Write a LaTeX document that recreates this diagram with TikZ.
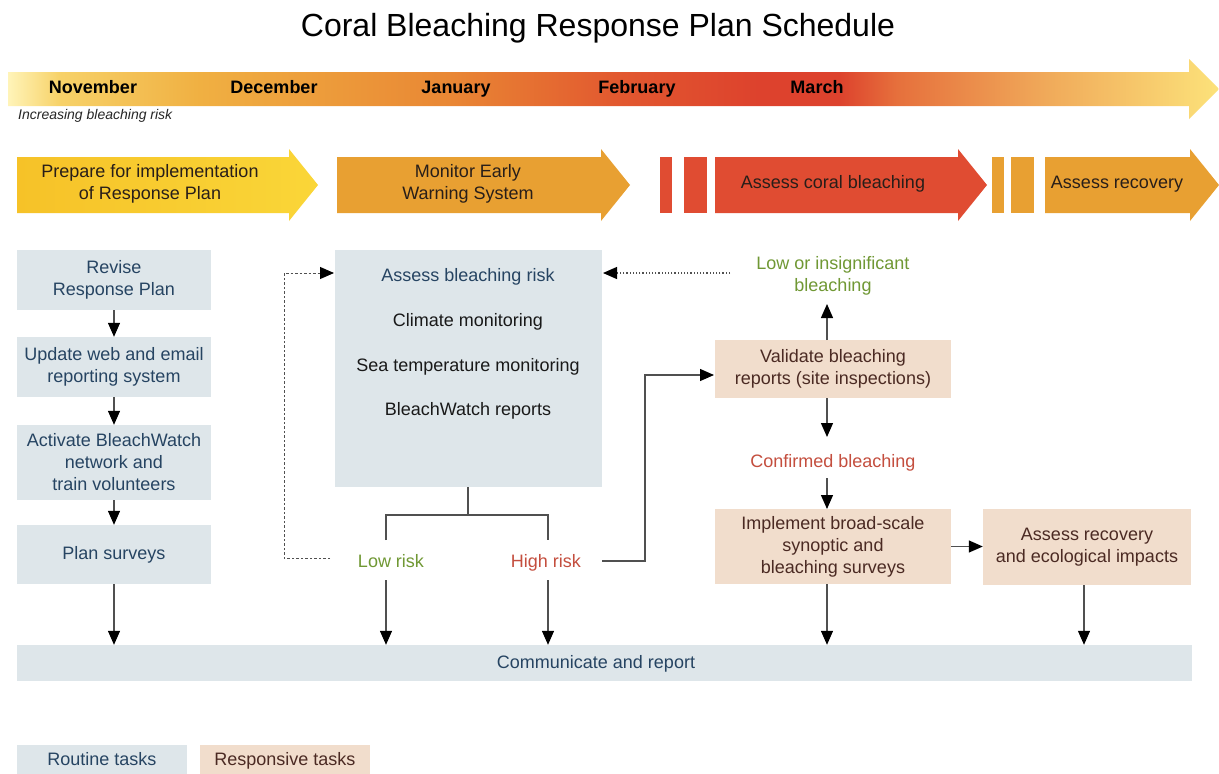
\documentclass[tikz,border=0pt]{standalone}
\usepackage{fontspec}
\setmainfont{Liberation Sans}
\usetikzlibrary{arrows.meta}
\definecolor{routinefill}{RGB}{222,230,234}
\definecolor{responsfill}{RGB}{241,221,204}
\definecolor{bluetxt}{RGB}{38,68,98}
\definecolor{browntxt}{RGB}{75,42,35}
\definecolor{greentxt}{RGB}{112,152,52}
\definecolor{redtxt}{RGB}{196,78,62}
\definecolor{linegrey}{RGB}{80,80,80}
\definecolor{phasetxt}{RGB}{40,30,25}
\definecolor{cA}{RGB}{255,244,185}
\definecolor{cB}{RGB}{247,210,105}
\definecolor{cC}{RGB}{240,176,66}
\definecolor{cD}{RGB}{233,135,52}
\definecolor{cE}{RGB}{226,88,47}
\definecolor{cF}{RGB}{221,66,45}
\definecolor{cG}{RGB}{230,112,60}
\definecolor{cH}{RGB}{240,170,90}
\definecolor{cI}{RGB}{252,226,122}
\definecolor{prepL}{RGB}{246,194,40}
\definecolor{prepR}{RGB}{250,214,56}
\definecolor{orangeph}{RGB}{232,160,50}
\definecolor{redph}{RGB}{224,76,50}
\pgfdeclarehorizontalshading{risk}{100bp}{color(0bp)=(cA); color(25bp)=(cA); color(27.1bp)=(cB); color(32.9bp)=(cC); color(43.2bp)=(cD); color(50.2bp)=(cE); color(56bp)=(cF); color(59.3bp)=(cF); color(61.7bp)=(cG); color(67.9bp)=(cH); color(75bp)=(cI); color(100bp)=(cI)}
\tikzset{
  txt/.style={font=\fontsize{18}{22}\selectfont, align=center, inner sep=0pt},
  one/.style={text height=13pt, text depth=4pt},
  routine/.style={fill=routinefill, draw=none, inner sep=0pt, text=bluetxt, font=\fontsize{18}{22}\selectfont, align=center},
  respons/.style={fill=responsfill, draw=none, inner sep=0pt, text=browntxt, font=\fontsize{18}{22}\selectfont, align=center},
  month/.style={font=\fontsize{18}{22}\selectfont\bfseries, text=black, inner sep=0pt, text height=13pt, text depth=4pt},
  tip/.style={-{Triangle[length=14pt,width=12pt,color=black]}},
  arr/.style={draw=linegrey, line width=1.3pt, tip},
  plain/.style={draw=linegrey, line width=1.3pt},
  dashline/.style={draw=linegrey, line width=1pt, dash pattern=on 2.5pt off 2pt},
  dotline/.style={draw=linegrey, line width=1.2pt, dash pattern=on 1.2pt off 2pt},
}
\begin{document}
\begin{tikzpicture}[x=1pt,y=-1pt]
\useasboundingbox (0,0) rectangle (1219,774);
\fill[white] (0,0) rectangle (1219,774);
% title
\node[font=\fontsize{32}{38}\selectfont, inner sep=0pt] (title) at (598,28) {Coral Bleaching Response Plan Schedule};
% timeline arrow
\shade[shading=risk] (8,72) -- (1189,72) -- (1189,59) -- (1219,89) -- (1189,119) -- (1189,106) -- (8,106) -- cycle;
\node[month] (nov) at (93,89) {November};
\node[month] (dec) at (274,89) {December};
\node[month] (jan) at (456,89) {January};
\node[month] (feb) at (637,89) {February};
\node[month] (mar) at (817,89) {March};
\node[font=\fontsize{14}{16}\selectfont\itshape, text=black!85, inner sep=0pt, anchor=west] (risk) at (18,116) {Increasing bleaching risk};
% phase arrows
\shade[left color=prepL, right color=prepR] (17,157) -- (289,157) -- (289,149) -- (318,185) -- (289,221) -- (289,213) -- (17,213) -- cycle;
\fill[orangeph] (337,157) -- (601,157) -- (601,149) -- (630,185) -- (601,221) -- (601,213) -- (337,213) -- cycle;
\fill[redph] (660,157) rectangle (672,213);
\fill[redph] (684,157) rectangle (707,213);
\fill[redph] (715,157) -- (958,157) -- (958,149) -- (987,185) -- (958,221) -- (958,213) -- (715,213) -- cycle;
\fill[orangeph] (992,157) rectangle (1004,213);
\fill[orangeph] (1011,157) rectangle (1034,213);
\fill[orangeph] (1045,157) -- (1190,157) -- (1190,149) -- (1219,185) -- (1190,221) -- (1190,213) -- (1045,213) -- cycle;
\node[txt, text=phasetxt] (ph1) at (150,184) {Prepare for implementation\\of Response Plan};
\node[txt, text=phasetxt] (ph2) at (468,184) {Monitor Early\\Warning System};
\node[txt, one, text=phasetxt] (ph3) at (833,184) {Assess coral bleaching};
\node[txt, one, text=phasetxt] (ph4) at (1117,184) {Assess recovery};
% routine column
\node[routine, minimum width=194pt, minimum height=60pt] (revise) at (114,280) {Revise\\Response Plan};
\node[routine, minimum width=194pt, minimum height=60pt] (update) at (114,367) {Update web and email\\reporting system};
\node[routine, minimum width=194pt, minimum height=75pt] (activate) at (114,462.5) {Activate BleachWatch\\network and\\train volunteers};
\node[routine, one, minimum width=194pt, minimum height=59pt] (plansurv) at (114,554.5) {Plan surveys};
% communicate bar
\node[routine, minimum width=1175pt, minimum height=36pt] (comm) at (604.5,663) {};
\node[txt, one, text=bluetxt] (commtxt) at (596,664) {Communicate and report};
% assess box
\node[routine, minimum width=267pt, minimum height=237pt] (assess) at (468.5,368.5) {};
\node[txt, one, text=bluetxt] (a1) at (468,277) {Assess bleaching risk};
\node[txt, one, text=black!90] (a2) at (468,322) {Climate monitoring};
\node[txt, one, text=black!90] (a3) at (468,367) {Sea temperature monitoring};
\node[txt, one, text=black!90] (a4) at (468,411) {BleachWatch reports};
\node[txt, one, text=greentxt] (low) at (391,563) {Low risk};
\node[txt, one, text=redtxt] (high) at (546,563) {High risk};
% responsive
\node[txt, text=greentxt] (lowins) at (833,276) {Low or insignificant\\bleaching};
\node[respons, minimum width=236pt, minimum height=58pt] (validate) at (833,369) {Validate bleaching\\reports (site inspections)};
\node[txt, one, text=redtxt] (confirmed) at (833,463) {Confirmed bleaching};
\node[respons, minimum width=236pt, minimum height=75pt] (implement) at (833,546.5) {Implement broad-scale\\synoptic and\\bleaching surveys};
\node[respons, minimum width=208pt, minimum height=76pt] (recov) at (1087,547) {Assess recovery\\and ecological impacts};
% legend
\node[routine, minimum width=170pt, minimum height=36pt] (legr) at (102,763) {};
\node[txt, one, text=bluetxt] (legrt) at (102,761) {Routine tasks};
\node[respons, minimum width=170pt, minimum height=36pt] (legs) at (285,763) {};
\node[txt, one, text=browntxt] (legst) at (285,761) {Responsive tasks};
% coordinates
\coordinate (tl) at (386,515);
\coordinate (tr) at (548,515);
\coordinate (tm) at (468,515);
\coordinate (tlb) at (386,540);
\coordinate (trb) at (548,540);
\coordinate (lowb) at (386,580);
\coordinate (highb) at (548,580);
\coordinate (d1) at (330,558);
\coordinate (d2) at (284,558);
\coordinate (d3) at (284,273);
\coordinate (d4) at (334,273);
\coordinate (h1) at (602,561);
\coordinate (h2) at (645,561);
\coordinate (h3) at (645,375);
\coordinate (h4) at (714,375);
\coordinate (o1) at (730,273);
\coordinate (o2) at (603,273);
\coordinate (v1) at (827,340);
\coordinate (v2) at (827,304);
\coordinate (v3) at (827,398);
\coordinate (v4) at (827,437);
\coordinate (c1) at (827,478);
\coordinate (c2) at (827,509);
\coordinate (i1) at (827,584);
\coordinate (r1) at (1084,585);
% connectors
\draw[arr] (revise.south) -- (update.north);
\draw[arr] (update.south) -- (activate.north);
\draw[arr] (activate.south) -- (plansurv.north);
\draw[arr] (plansurv.south) -- (plansurv.south |- comm.north);
\draw[plain] (tm |- assess.south) -- (tm);
\draw[plain] (tlb) -- (tl) -- (tr) -- (trb);
\draw[arr] (lowb) -- (lowb |- comm.north);
\draw[arr] (highb) -- (highb |- comm.north);
\draw[dashline, tip] (d1) -- (d2) -- (d3) -- (d4);
\draw[plain, tip] (h1) -- (h2) -- (h3) -- (h4);
\draw[dotline, tip] (o1) -- (o2);
\draw[arr] (v1) -- (v2);
\draw[arr] (v3) -- (v4);
\draw[arr] (c1) -- (c2);
\draw[arr] (implement.east) -- (implement.east -| recov.west);
\draw[arr] (i1) -- (i1 |- comm.north);
\draw[arr] (r1) -- (r1 |- comm.north);
\end{tikzpicture}
\end{document}
